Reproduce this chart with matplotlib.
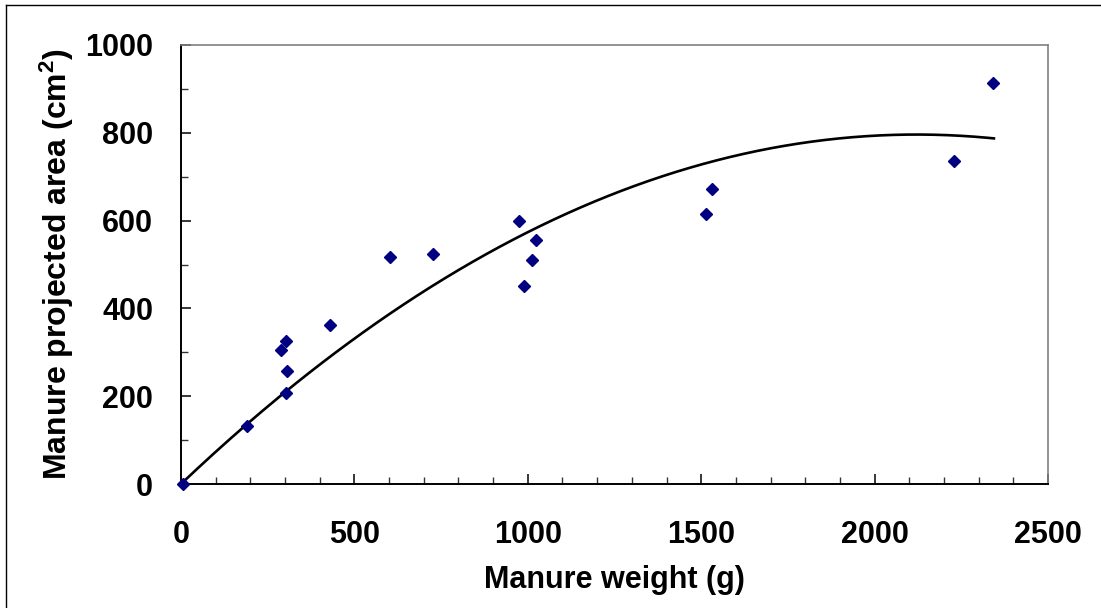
import numpy as np
import matplotlib
matplotlib.use("Agg")
import matplotlib.pyplot as plt
from matplotlib.lines import Line2D
from matplotlib.ticker import MultipleLocator

# Measured manure samples: weight (g) vs projected area (cm^2)
weight_g = [5, 191, 288, 304, 307, 304, 431, 602, 727, 975, 989, 1012, 1024,
            1514, 1531, 2230, 2342]
area_cm2 = [0, 133, 305, 326, 258, 207, 362, 517, 523, 600, 451, 511, 555,
            615, 672, 736, 913]

# Second-order trend line (area = a*w + b*w^2)
trend_coef = [-1.7694e-4, 0.7506, 0.0]
trend_range = [0, 2344]

x_ticks = [0, 500, 1000, 1500, 2000, 2500]
y_ticks = [0, 200, 400, 600, 800, 1000]

plt.rcParams["font.family"] = ["Liberation Sans", "DejaVu Sans"]
plt.rcParams["font.weight"] = "bold"
plt.rcParams["mathtext.fontset"] = "custom"
plt.rcParams["mathtext.rm"] = "Liberation Sans:bold"
plt.rcParams["mathtext.bf"] = "Liberation Sans:bold"
plt.rcParams["mathtext.default"] = "bf"

W, H, DPI = 1101, 608, 100
fig = plt.figure(figsize=(W / DPI, H / DPI), dpi=DPI)
ax = fig.add_axes([181 / W, 1 - 484 / H, (1048 - 181) / W, (484 - 45) / H])

# Trend line
xs = np.linspace(trend_range[0], trend_range[1], 300)
ax.plot(xs, np.polyval(trend_coef, xs), color="black", lw=1.9, zorder=2,
        clip_on=False)

# Data points
ax.plot(weight_g, area_cm2, linestyle="none", marker="D", ms=6.2,
        color="#000080", mec="#000080", zorder=3, clip_on=False)

ax.set_xlim(0, 2500)
ax.set_ylim(0, 1000)
ax.set_xticks(x_ticks)
ax.set_yticks(y_ticks)
ax.xaxis.set_minor_locator(MultipleLocator(100))
ax.yaxis.set_minor_locator(MultipleLocator(100))
ax.tick_params(which="major", direction="in", length=7.5, width=1.1,
               labelsize=22, color="black")
ax.tick_params(which="minor", direction="in", length=5.3, width=1.0,
               color="#333333")
ax.tick_params(axis="y", which="major", pad=20)
ax.tick_params(axis="x", which="major", pad=26)
for lab in ax.get_xticklabels() + ax.get_yticklabels():
    lab.set_fontweight("bold")

for side in ("left", "bottom"):
    ax.spines[side].set_color("black")
    ax.spines[side].set_linewidth(1.4)
for side in ("top", "right"):
    ax.spines[side].set_color("#808080")
    ax.spines[side].set_linewidth(1.2)

ax.set_xlabel("Manure weight (g)", fontsize=22, fontweight="bold")
ax.set_ylabel(r"Manure projected area (cm$^{2}$)", fontsize=23,
              fontweight="bold")
ax.xaxis.set_label_coords(0.5, (484 - 565) / (484 - 45))
ax.yaxis.set_label_coords((76 - 181) / (1048 - 181), 0.5)

# Chart frame (left and top edges)
fig.add_artist(Line2D([6 / W, 6 / W], [0, 1 - 5 / H], color="black", lw=1.0,
                      transform=fig.transFigure))
fig.add_artist(Line2D([6 / W, 1], [1 - 5 / H, 1 - 5 / H], color="black", lw=1.0,
                      transform=fig.transFigure))

fig.savefig("out.png", dpi=DPI)
